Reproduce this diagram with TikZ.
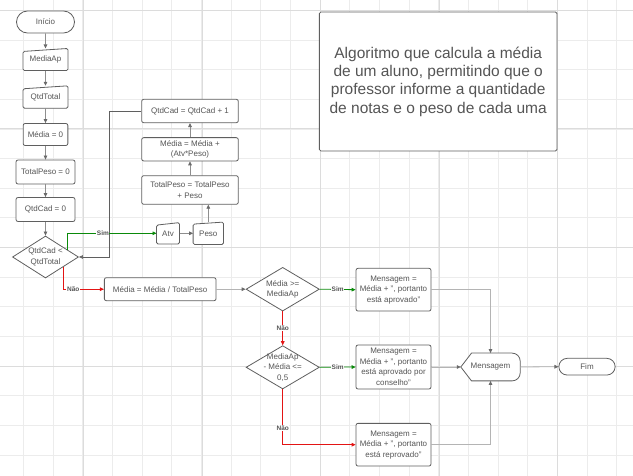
\documentclass[tikz,border=0pt]{standalone}
\usepackage{fontspec}
\setmainfont{Liberation Sans}
\usetikzlibrary{arrows.meta,shapes.geometric,shapes.misc,calc}

\definecolor{lineg}{HTML}{5F5F5F}
\definecolor{textg}{HTML}{555555}
\definecolor{arrg}{HTML}{8E8E8E}
\definecolor{arrhead}{HTML}{6A6A6A}
\definecolor{arrlight}{HTML}{B4B4B4}
\definecolor{gridmin}{HTML}{ECECEC}
\definecolor{gridmaj}{HTML}{DCDCDC}
\definecolor{simgreen}{HTML}{0A8A0A}
\definecolor{naored}{HTML}{E31414}

\pgfdeclarelayer{grade}
\pgfdeclarelayer{formas}
\pgfsetlayers{grade,formas,main}

\tikzset{
  box/.style={draw=lineg, fill=white, line width=0.8pt, rounded corners=2pt, inner sep=1pt},
  term/.style={rounded rectangle, draw=lineg, fill=white, line width=0.8pt, inner sep=1pt},
  dia/.style={diamond, draw=lineg, fill=white, line width=0.8pt, inner sep=0pt},
  plain/.style={inner sep=0pt},
  outline/.style={draw=lineg, fill=white, line width=0.8pt},
  yes/.style={fill=white, inner sep=0.6pt, font=\bfseries\fontsize{6.5}{7}\selectfont, text=textg},
  flow/.style={-{Triangle[length=4pt,width=3.6pt,color=arrhead]}, draw=arrg, line width=0.8pt},
  sim/.style={->, draw=simgreen, line width=0.8pt},
  nao/.style={->, draw=naored, line width=0.8pt}
}

% entrada manual: topo inclinado
\newcommand\entrada[2]{%
  \begin{pgfonlayer}{formas}
    \draw[outline, rounded corners=1.5pt] ([yshift=-#2]#1.north west) -- (#1.north east)
      -- (#1.south east) -- (#1.south west) -- cycle;
  \end{pgfonlayer}}
% exibicao: ponta a esquerda, lado direito arredondado
\newcommand\exibe[1]{%
  \begin{pgfonlayer}{formas}
    \draw[outline] (#1.west) -- ([xshift=10.7pt]#1.north west)
      -- ([xshift=-8pt]#1.north east) arc[start angle=90, end angle=0, radius=8pt]
      -- ([yshift=8pt]#1.south east) arc[start angle=0, end angle=-90, radius=8pt]
      -- ([xshift=10.7pt]#1.south west) -- cycle;
  \end{pgfonlayer}}

\begin{document}
\begin{tikzpicture}[x=1pt,y=-1pt,>={Triangle[length=4pt,width=3.6pt]},
  every node/.style={font=\fontsize{8}{10.5}\selectfont, text=textg, align=center},
  node distance=37.5pt]
\useasboundingbox (0,0) rectangle (633,476);

% grade de fundo
\begin{pgfonlayer}{grade}
  \clip (0,0) rectangle (633,476);
  \foreach \k in {-1,...,21}
    \draw[gridmin, line width=0.7pt] ({23.5+29.65*\k},0) -- ({23.5+29.65*\k},476);
  \foreach \k in {0,...,16}
    \draw[gridmin, line width=0.7pt] (0,{10.3+29.65*\k}) -- (633,{10.3+29.65*\k});
  \foreach \k in {-1,...,4} {
    \draw[gridmaj, line width=0.8pt] ({83.3+118.6*\k},0) -- ({83.3+118.6*\k},476);
    \draw[gridmaj, line width=0.8pt] (0,{10.3+118.6*\k}) -- (633,{10.3+118.6*\k});
  }
\end{pgfonlayer}

% coluna da esquerda
\node[term, minimum width=60pt, minimum height=22pt] (inicio) at (45.5,22) {Início};
\node[plain, minimum width=44.7pt, minimum height=21.7pt] (mediaap) [below of=inicio] {MediaAp};
\node[plain, minimum width=44.7pt, minimum height=22pt] (qtdtotal) [below of=mediaap] {QtdTotal};
\node[box, minimum width=44.7pt, minimum height=22pt] (media0) [below of=qtdtotal] {Média = 0};
\node[box, minimum width=59pt, minimum height=24pt] (peso0) [below of=media0] {TotalPeso = 0};
\node[box, minimum width=59pt, minimum height=24pt] (qtd0) [below of=peso0] {QtdCad = 0};
\node[dia, minimum width=66pt, minimum height=42pt, label={center:{QtdCad <\\QtdTotal}}] (teste) [node distance=47.5pt, below of=qtd0] {};
\entrada{mediaap}{3pt}
\entrada{qtdtotal}{3pt}

% laco
\node[plain, minimum width=22.6pt, minimum height=21pt] (atv) at (168,233.3) {Atv};
\node[plain, minimum width=30pt, minimum height=22pt] (peso) [node distance=40.3pt, right of=atv] {Peso};
\entrada{atv}{2.5pt}
\entrada{peso}{2pt}
\node[box, minimum width=96.6pt, minimum height=28.6pt] (somapeso) at (190,190) {TotalPeso = TotalPeso\\+ Peso};
\node[box, minimum width=96.6pt, minimum height=23.3pt] (somamedia) at (190,149.3) {Média = Média +\\(Atv*Peso)};
\node[box, minimum width=96.6pt, minimum height=23.4pt] (incqtd) at (190,111) {QtdCad = QtdCad + 1};

% resultado
\node[box, minimum width=111.7pt, minimum height=23pt] (divide) at (160.2,289.2) {Média = Média / TotalPeso};
\node[dia, minimum width=73.3pt, minimum height=43.7pt, label={center:{Média >=\\MediaAp}}] (aprov) at (282.7,289.2) {};
\node[dia, minimum width=73.3pt, minimum height=43.3pt, label={center:{MediaAp\\- Média <=\\0,5}}] (conselho) at (282.7,367.3) {};
\node[box, minimum width=75pt, minimum height=42.7pt] (msgaprov) at (393.5,289.7) {Mensagem =\\Média + ", portanto\\está aprovado"};
\node[box, minimum width=75pt, minimum height=44pt] (msgcons) at (393.5,367) {Mensagem =\\Média + ", portanto\\está aprovado por\\conselho"};
\node[box, minimum width=75pt, minimum height=42.7pt] (msgrepr) at (393.5,444.7) {Mensagem =\\Média + ", portanto\\está reprovado"};
\node[plain, minimum width=59pt, minimum height=27.4pt] (mostra) at (490.5,367) {Mensagem};
\exibe{mostra}
\node[term, minimum width=58.3pt, minimum height=16.7pt] (fim) at (587,366.7) {Fim};

\node[box, rounded corners=1.5pt, minimum width=237.7pt, minimum height=139pt,
  font=\fontsize{15.5}{18.3}\selectfont] (titulo) at (438.2,81.5)
  {Algoritmo que calcula a média\\de um aluno, permitindo que o\\professor informe a quantidade\\de notas e o peso de cada uma};

\path[flow] (inicio) edge (mediaap)
            (mediaap) edge (qtdtotal)
            (qtdtotal) edge (media0)
            (media0) edge (peso0)
            (peso0) edge (qtd0)
            (qtd0) edge (teste)
            (atv) edge (peso)
            (somapeso) edge (somamedia)
            (somamedia) edge (incqtd);
\draw[flow] (peso.north) -- (peso.north |- somapeso.south);
\draw[flow, draw=lineg] (incqtd.west) -- ++(-31.7,0) |- (teste.east);

\draw[sim] ($(teste.north)!0.65!(teste.east)$) |- (atv.west) node[yes, pos=0.7] {Sim};
\draw[nao] ($(teste.east)!0.46!(teste.south)$) |- (divide.west) node[yes, pos=0.62] {Não};

\draw[flow, draw=arrlight] (divide.east) -- (aprov.west);
\draw[sim] (aprov.east) -- (msgaprov.west) node[yes, midway] {Sim};
\draw[nao] (aprov.south) -- (conselho.north) node[yes, midway] {Não};
\draw[sim] (conselho.east) -- (msgcons.west) node[yes, midway] {Sim};
\draw[nao] (conselho.south) |- (msgrepr.west) node[yes, pos=0.35] {Não};

\draw[flow, draw=arrlight] (msgaprov.east) -| (mostra.north);
\draw[flow, draw=arrlight] (msgcons.east) -- (mostra.west);
\draw[flow, draw=arrlight] (msgrepr.east) -| (mostra.south);
\draw[flow, draw=arrlight] (mostra.east) -- (fim.west);
\end{tikzpicture}
\end{document}
